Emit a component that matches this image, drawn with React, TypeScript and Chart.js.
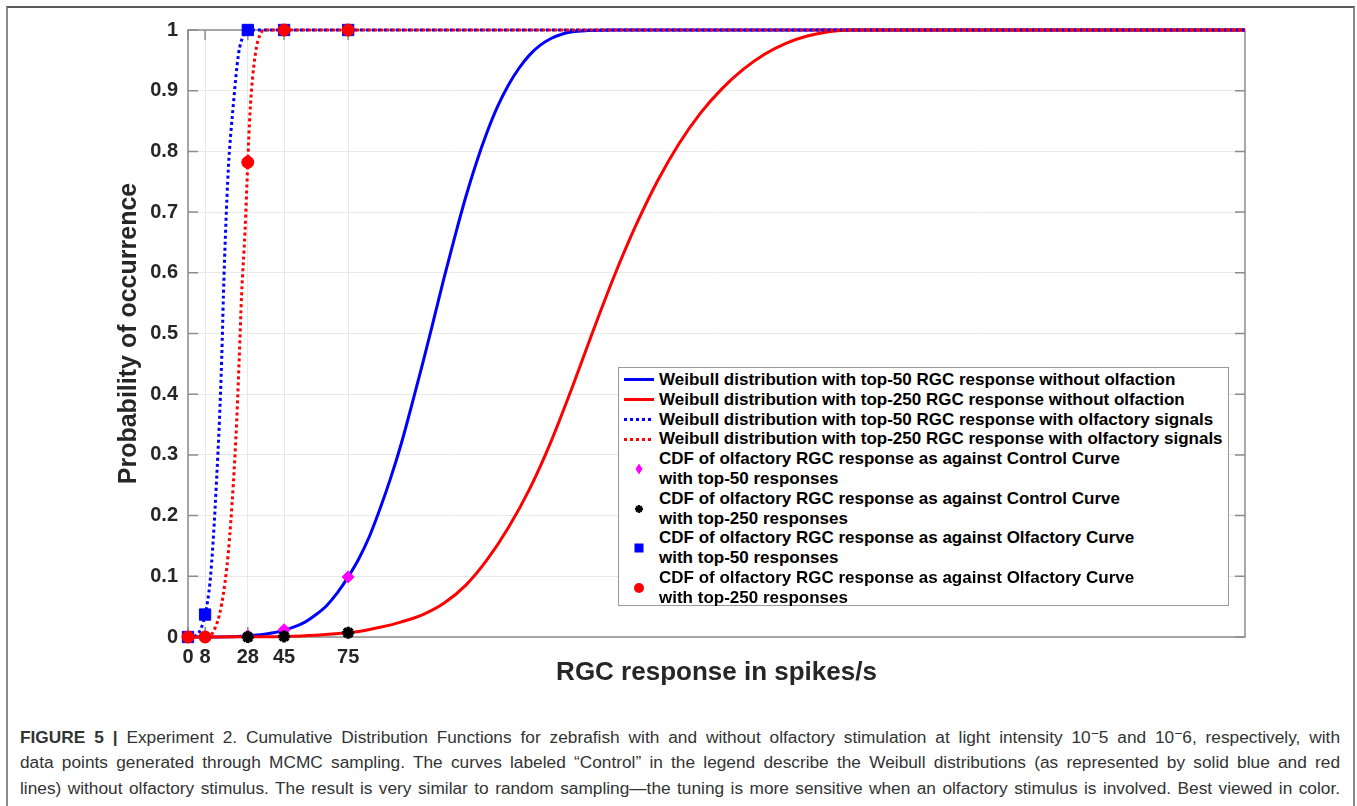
import React, { useEffect, useRef } from 'react';
import { Chart, registerables } from 'chart.js';

Chart.register(...registerables);

// ---------- data ----------
const xTickValues = [0, 8, 28, 45, 75];
const yTickValues = [0, 0.1, 0.2, 0.3, 0.4, 0.5, 0.6, 0.7, 0.8, 0.9, 1];
const xMax = 495;

// Weibull, top-50 without olfaction (solid blue)
const blueSolidX = [0, 20, 28, 35, 40, 45, 50, 55, 60, 65, 70, 75, 80, 85, 90, 95, 100, 105, 110, 115, 120, 125, 130, 135, 140, 145, 150, 155, 160, 165, 170, 175, 180, 187, 200, 495];
const blueSolidY = [0, 0.0005, 0.002, 0.004, 0.007, 0.011, 0.017, 0.025, 0.037, 0.052, 0.073, 0.099, 0.129, 0.166, 0.212, 0.263, 0.32, 0.385, 0.452, 0.522, 0.593, 0.66, 0.724, 0.781, 0.831, 0.874, 0.909, 0.937, 0.959, 0.975, 0.986, 0.993, 0.997, 0.999, 1, 1];

// Weibull, top-250 without olfaction (solid red)
const redSolidX = [0, 28, 45, 60, 75, 80, 90, 100, 110, 120, 130, 140, 150, 160, 170, 180, 190, 200, 210, 220, 230, 240, 250, 260, 270, 280, 290, 300, 310, 495];
const redSolidY = [0, 0.0005, 0.001, 0.003, 0.007, 0.009, 0.016, 0.025, 0.037, 0.056, 0.085, 0.127, 0.18, 0.244, 0.322, 0.412, 0.507, 0.598, 0.68, 0.752, 0.813, 0.863, 0.903, 0.935, 0.96, 0.978, 0.99, 0.997, 1, 1];

// Weibull, top-50 with olfactory signals (dotted blue)
const blueDotX = [0, 4, 8, 10.3, 11.9, 13.4, 14.7, 15.8, 16.6, 17.6, 18.9, 21.2, 23.6, 26, 28, 495];
const blueDotY = [0, 0.003, 0.037, 0.09, 0.165, 0.26, 0.355, 0.46, 0.564, 0.668, 0.772, 0.876, 0.959, 0.992, 1, 1];

// Weibull, top-250 with olfactory signals (dotted red)
const redDotX = [0, 8, 11.9, 15.8, 18.9, 21.2, 22.8, 24, 25.1, 26.7, 28, 29, 31.4, 34.5, 36, 495];
const redDotY = [0, 0, 0.009, 0.055, 0.14, 0.251, 0.355, 0.46, 0.564, 0.668, 0.782, 0.862, 0.957, 0.997, 1, 1];

// sampled CDF points
const sampleX = [0, 8, 28, 45, 75];
const controlTop50Y = [0, 0, 0.002, 0.012, 0.099];
const controlTop250Y = [0, 0, 0, 0.001, 0.007];
const olfactoryTop50Y = [0, 0.037, 1, 1, 1];
const olfactoryTop250Y = [0, 0, 0.782, 1, 1];

const seriesLabels = [
  'Weibull distribution with top-50 RGC response without olfaction',
  'Weibull distribution with top-250 RGC response without olfaction',
  'Weibull distribution with top-50 RGC response with olfactory signals',
  'Weibull distribution with top-250 RGC response with olfactory signals',
  'CDF of olfactory RGC response as against Control Curve\nwith top-50 responses',
  'CDF of olfactory RGC response as against Control Curve\nwith top-250 responses',
  'CDF of olfactory RGC response as against Olfactory Curve\nwith top-50 responses',
  'CDF of olfactory RGC response as against Olfactory Curve\nwith top-250 responses',
];

const xTitle = 'RGC response in spikes/s';
const yTitle = 'Probability of occurrence';

const FONT = '"Liberation Sans", Arial, Helvetica, sans-serif';
const BLUE = '#0000ff';
const RED = '#ff0000';
const MAGENTA = '#ff00ff';

const zip = (xs: number[], ys: number[]) => xs.map((x, i) => ({ x, y: ys[i] }));

const axisBoxPlugin = {
  id: 'axisBox',
  beforeDatasetsDraw(chart: any) {
    const { ctx, chartArea, scales } = chart;
    const { left, right, top, bottom } = chartArea;
    ctx.save();
    ctx.strokeStyle = '#8c8c8c';
    ctx.lineWidth = 1.5;
    ctx.strokeRect(left, top, right - left, bottom - top);
    const len = 10;
    ctx.beginPath();
    yTickValues.forEach((v) => {
      const py = scales.y.getPixelForValue(v);
      ctx.moveTo(left, py);
      ctx.lineTo(left + len, py);
      ctx.moveTo(right, py);
      ctx.lineTo(right - len, py);
    });
    xTickValues.forEach((v) => {
      const px = scales.x.getPixelForValue(v);
      ctx.moveTo(px, bottom);
      ctx.lineTo(px, bottom - len);
      ctx.moveTo(px, top);
      ctx.lineTo(px, top + len);
    });
    ctx.stroke();
    ctx.restore();
  },
};

function LegendSwatch({ index }: { index: number }) {
  if (index < 4) {
    const color = index % 2 === 0 ? BLUE : RED;
    const dotted = index >= 2;
    return (
      <div
        style={{
          width: 30,
          height: 3,
          background: dotted
            ? `repeating-linear-gradient(90deg, ${color} 0 3px, transparent 3px 6px)`
            : color,
        }}
      />
    );
  }
  const size = 14;
  let shape: React.ReactNode = null;
  if (index === 4) shape = <polygon points="7,1.5 10.5,7 7,12.5 3.5,7" fill={MAGENTA} />;
  if (index === 5)
    shape = (
      <g stroke="#000" strokeWidth={2.2}>
        <line x1="7" y1="3" x2="7" y2="11" />
        <line x1="3" y1="7" x2="11" y2="7" />
        <line x1="4.2" y1="4.2" x2="9.8" y2="9.8" />
        <line x1="9.8" y1="4.2" x2="4.2" y2="9.8" />
      </g>
    );
  if (index === 6) shape = <rect x="2.5" y="2.5" width="9" height="9" fill={BLUE} />;
  if (index === 7) shape = <circle cx="7" cy="7" r="5" fill={RED} />;
  return (
    <svg width={size} height={size} viewBox="0 0 14 14">
      {shape}
    </svg>
  );
}

function Legend() {
  return (
    <div
      style={{
        position: 'absolute',
        left: 618,
        top: 367,
        width: 611,
        height: 239,
        border: '1px solid #9a9a9a',
        background: '#fff',
        boxSizing: 'border-box',
        paddingTop: 2,
        fontFamily: FONT,
        fontWeight: 'bold',
        fontSize: 17,
        lineHeight: '19.8px',
        color: '#000',
      }}
    >
      {seriesLabels.map((label, i) => {
        const lines = label.split('\n');
        return (
          <div key={i} style={{ display: 'flex', alignItems: 'center' }}>
            <div style={{ width: 40, display: 'flex', justifyContent: 'center' }}>
              <LegendSwatch index={i} />
            </div>
            <div style={{ whiteSpace: 'nowrap' }}>
              {lines.map((l, j) => (
                <div key={j}>{l}</div>
              ))}
            </div>
          </div>
        );
      })}
    </div>
  );
}

function Caption() {
  const sup = <span style={{ verticalAlign: '0.35em', fontSize: '0.8em' }}>−</span>;
  const lineStyle: React.CSSProperties = {
    textAlign: 'justify',
    textAlignLast: 'justify' as any,
    whiteSpace: 'nowrap',
  };
  return (
    <div
      style={{
        position: 'absolute',
        left: 20,
        top: 721,
        width: 1320,
        fontFamily: FONT,
        fontSize: 17.3,
        lineHeight: '25.5px',
        color: '#333',
      }}
    >
      <div style={lineStyle}>
        <b>FIGURE 5 |</b> Experiment 2. Cumulative Distribution Functions for zebrafish with and without olfactory
        stimulation at light intensity 10{sup}5 and 10{sup}6, respectively, with
      </div>
      <div style={lineStyle}>
        data points generated through MCMC sampling. The curves labeled “Control” in the legend describe the Weibull
        distributions (as represented by solid blue and red
      </div>
      <div style={lineStyle}>
        lines) without olfactory stimulus. The result is very similar to random sampling—the tuning is more sensitive
        when an olfactory stimulus is involved. Best viewed in color.
      </div>
    </div>
  );
}

export default function App() {
  const canvasRef = useRef<HTMLCanvasElement | null>(null);

  useEffect(() => {
    if (!canvasRef.current) return;
    const lineBase = {
      showLine: true,
      pointRadius: 0,
      pointHoverRadius: 0,
      borderWidth: 3,
      fill: false,
      clip: false as any,
      cubicInterpolationMode: 'monotone' as const,
    };
    const markerBase = { showLine: false, clip: false as any };
    const chart = new Chart(canvasRef.current, {
      type: 'scatter',
      data: {
        datasets: [
          { ...lineBase, label: seriesLabels[0], data: zip(blueSolidX, blueSolidY), borderColor: BLUE, backgroundColor: BLUE, order: 8 },
          { ...lineBase, label: seriesLabels[1], data: zip(redSolidX, redSolidY), borderColor: RED, backgroundColor: RED, order: 7 },
          { ...lineBase, label: seriesLabels[2], data: zip(blueDotX, blueDotY), borderColor: BLUE, backgroundColor: BLUE, borderDash: [3, 3], order: 6 },
          { ...lineBase, label: seriesLabels[3], data: zip(redDotX, redDotY), borderColor: RED, backgroundColor: RED, borderDash: [3, 3], order: 5 },
          { ...markerBase, label: seriesLabels[4], data: zip(sampleX, controlTop50Y), pointStyle: 'rectRot', pointRadius: 6, backgroundColor: MAGENTA, borderColor: MAGENTA, borderWidth: 1, order: 4 },
          { ...markerBase, label: seriesLabels[5], data: zip(sampleX, controlTop250Y), pointStyle: 'star', pointRadius: 6, backgroundColor: '#000', borderColor: '#000', borderWidth: 3.5, order: 3 },
          { ...markerBase, label: seriesLabels[6], data: zip(sampleX, olfactoryTop50Y), pointStyle: 'rect', pointRadius: 8, backgroundColor: BLUE, borderColor: BLUE, borderWidth: 1, order: 2 },
          { ...markerBase, label: seriesLabels[7], data: zip(sampleX, olfactoryTop250Y), pointStyle: 'circle', pointRadius: 6, backgroundColor: RED, borderColor: RED, borderWidth: 1, order: 1 },
        ],
      },
      options: {
        animation: false,
        responsive: false,
        devicePixelRatio: 1,
        events: [],
        layout: { padding: { top: 30, right: 112, left: 0, bottom: 0 } },
        plugins: { legend: { display: false }, tooltip: { enabled: false } },
        scales: {
          x: {
            type: 'linear',
            min: 0,
            max: xMax,
            afterBuildTicks: (scale: any) => {
              scale.ticks = xTickValues.map((v) => ({ value: v }));
            },
            afterFit: (scale: any) => {
              scale.height = 63;
            },
            ticks: {
              autoSkip: false,
              maxRotation: 0,
              padding: 8,
              color: '#262626',
              font: { family: FONT, size: 20, weight: 'bold' },
              callback: (v: any) => String(v),
            },
            grid: { color: '#e8e8e8', lineWidth: 1, drawTicks: false },
            border: { display: false },
            title: {
              display: true,
              text: xTitle,
              color: '#262626',
              font: { family: FONT, size: 26, weight: 'bold' },
              padding: { top: 0, bottom: 12 },
            },
          },
          y: {
            type: 'linear',
            min: 0,
            max: 1,
            afterBuildTicks: (scale: any) => {
              scale.ticks = yTickValues.map((v) => ({ value: v }));
            },
            afterFit: (scale: any) => {
              scale.width = 188;
            },
            ticks: {
              padding: 10,
              color: '#262626',
              font: { family: FONT, size: 20, weight: 'bold' },
              callback: (v: any) => String(v),
            },
            grid: { color: '#e8e8e8', lineWidth: 1, drawTicks: false },
            border: { display: false },
            title: {
              display: true,
              text: yTitle,
              color: '#262626',
              font: { family: FONT, size: 25, weight: 'bold' },
              padding: { top: 114, bottom: 0 },
            },
          },
        },
      },
      plugins: [axisBoxPlugin],
    });
    return () => chart.destroy();
  }, []);

  return (
    <div
      style={{
        position: 'absolute',
        left: 0,
        top: 0,
        width: 1357,
        height: 806,
        overflow: 'hidden',
        background: '#fff',
      }}
    >
      <div
        style={{
          position: 'absolute',
          left: 6,
          top: 6,
          width: 1349,
          height: 900,
          boxSizing: 'border-box',
          borderTop: '2px solid #5a5a5a',
          borderLeft: '2px solid #8a8a8a',
          borderRight: '2px solid #8a8a8a',
        }}
      />
      <canvas
        ref={canvasRef}
        width={1357}
        height={700}
        style={{ position: 'absolute', left: 0, top: 0, width: 1357, height: 700 }}
      />
      <Legend />
      <Caption />
    </div>
  );
}
